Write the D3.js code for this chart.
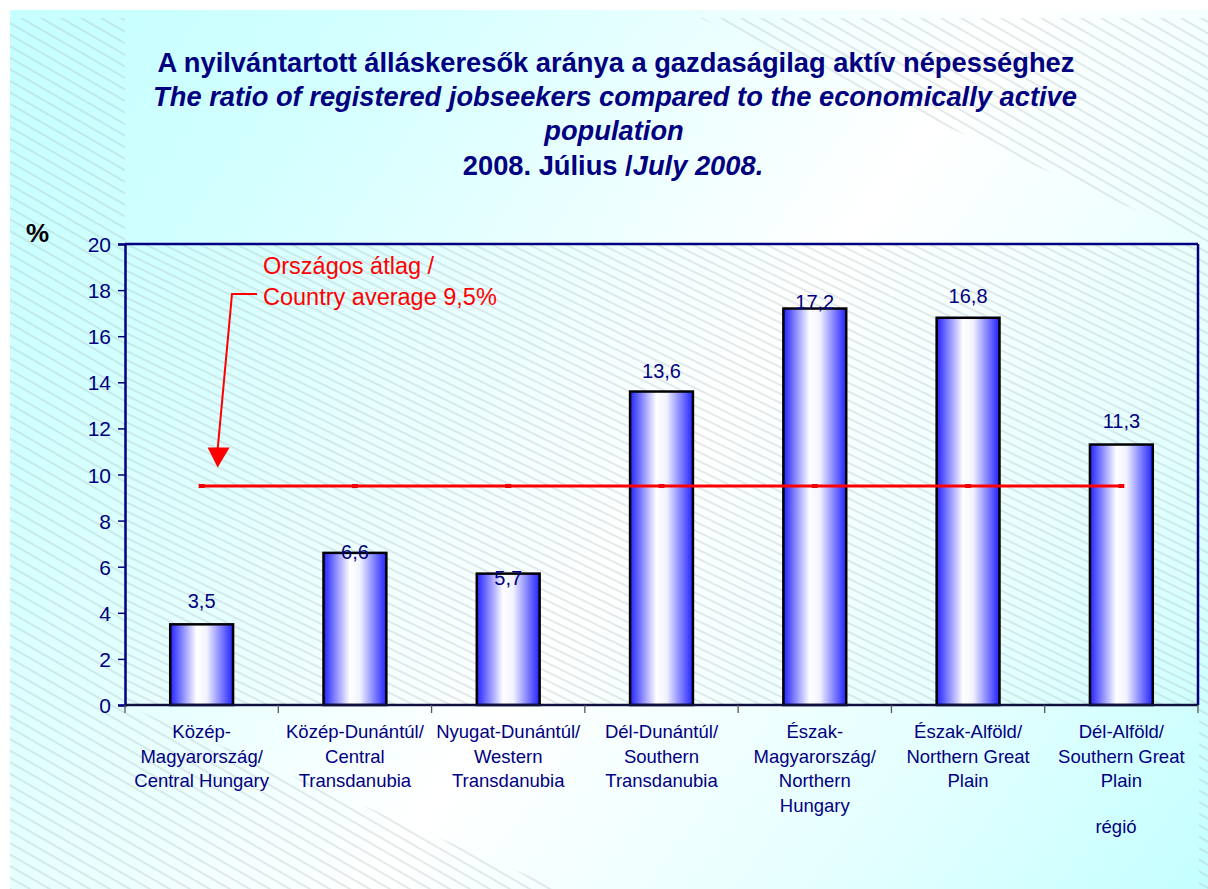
<!DOCTYPE html>
<html>
<head>
<meta charset="utf-8">
<script src="https://cdn.jsdelivr.net/npm/d3@7"></script>
<style>
  html, body { margin: 0; padding: 0; background: #ffffff; }
  svg { display: block; font-family: "Liberation Sans", Arial, sans-serif; }
</style>
</head>
<body>
<svg id="chart" width="1208" height="889"></svg>
<script>
// ---------- data ----------
const categories = [
  ["Közép-", "Magyarország/", "Central Hungary"],
  ["Közép-Dunántúl/", "Central", "Transdanubia"],
  ["Nyugat-Dunántúl/", "Western", "Transdanubia"],
  ["Dél-Dunántúl/", "Southern", "Transdanubia"],
  ["Észak-", "Magyarország/", "Northern", "Hungary"],
  ["Észak-Alföld/", "Northern Great", "Plain"],
  ["Dél-Alföld/", "Southern Great", "Plain"]
];
const values = [3.5, 6.6, 5.7, 13.6, 17.2, 16.8, 11.3];
const countryAverage = 9.5;
const yTicks = [0, 2, 4, 6, 8, 10, 12, 14, 16, 18, 20];
const titleLines = [
  "A nyilvántartott álláskeresők aránya a gazdaságilag aktív népességhez",
  "The ratio of registered jobseekers compared to the economically active",
  "population"
];
const titleDateParts = ["2008. Július /", "July 2008."];
const avgLabel = ["Országos átlag /", "Country average 9,5%"];
const yUnit = "%";
const xUnit = "régió";

// ---------- layout ----------
const W = 1208, H = 889;
const plot = { left: 125, top: 244, right: 1198, bottom: 705 };
// vertical nudges of value labels (px above bar top), as in the original
const labelRise = [16, -6, -11, 14, 0, 15, 17];
const navy = "#000080";
const font = '"Liberation Sans", Arial, sans-serif';

const svg = d3.select("#chart");
const defs = svg.append("defs");

// background gradient
const bg = defs.append("linearGradient").attr("id", "bgGrad")
  .attr("gradientUnits", "userSpaceOnUse")
  .attr("x1", 0).attr("y1", 0).attr("x2", W).attr("y2", H);
bg.append("stop").attr("offset", 0).attr("stop-color", "#c4ffff");
bg.append("stop").attr("offset", 0.2).attr("stop-color", "#d2ffff");
bg.append("stop").attr("offset", 0.55).attr("stop-color", "#ffffff");
bg.append("stop").attr("offset", 0.8).attr("stop-color", "#e4ffff");
bg.append("stop").attr("offset", 1).attr("stop-color", "#c4ffff");

// hatch patterns
const hatch = defs.append("pattern").attr("id", "hatch")
  .attr("patternUnits", "userSpaceOnUse")
  .attr("width", 10).attr("height", 10)
  .attr("patternTransform", "rotate(30)");
hatch.append("line").attr("x1", 0).attr("x2", 10).attr("y1", 5).attr("y2", 5)
  .attr("stroke", "#a8b4b4").attr("stroke-width", 0.6);

const hatchPlot = defs.append("pattern").attr("id", "hatchPlot")
  .attr("patternUnits", "userSpaceOnUse")
  .attr("width", 8).attr("height", 8)
  .attr("patternTransform", "rotate(26)");
hatchPlot.append("line").attr("x1", 0).attr("x2", 8).attr("y1", 4).attr("y2", 4)
  .attr("stroke", "#a8b4b4").attr("stroke-width", 0.6);

// bar gradient
const barGrad = defs.append("linearGradient").attr("id", "barGrad")
  .attr("x1", 0).attr("y1", 0).attr("x2", 1).attr("y2", 0);
barGrad.append("stop").attr("offset", 0).attr("stop-color", "#2222ff");
barGrad.append("stop").attr("offset", 0.42).attr("stop-color", "#ffffff");
barGrad.append("stop").attr("offset", 0.58).attr("stop-color", "#f2f2ff");
barGrad.append("stop").attr("offset", 1).attr("stop-color", "#2222ff");

// background
svg.append("rect").attr("x", 10).attr("y", 10).attr("width", W - 10).attr("height", H - 10)
  .attr("fill", "url(#bgGrad)");
svg.append("polygon").attr("points", "700,18 1208,18 1208,242").attr("fill", "url(#hatch)");
svg.append("polygon").attr("points", "10,18 125,18 125,705 560,889 10,889").attr("fill", "url(#hatch)");
svg.append("rect").attr("x", 1199).attr("y", 242).attr("width", 9).attr("height", H - 242).attr("fill", "url(#hatch)");

// ---------- scales ----------
const x = d3.scaleBand().domain(d3.range(values.length))
  .range([plot.left, plot.right]).paddingInner(0.59).paddingOuter(0.295);
const y = d3.scaleLinear().domain([0, 20]).range([plot.bottom, plot.top]);
const cx = i => x(i) + x.bandwidth() / 2;

// plot area hatch
svg.append("rect").attr("x", plot.left).attr("y", plot.top)
  .attr("width", plot.right - plot.left).attr("height", plot.bottom - plot.top)
  .attr("fill", "url(#hatchPlot)");

// title
const title = svg.append("g").attr("fill", navy).attr("font-weight", "bold")
  .attr("font-size", 27.3).attr("text-anchor", "middle");
title.append("text").attr("x", 616).attr("y", 72).text(titleLines[0]);
title.append("text").attr("x", 615).attr("y", 106).attr("font-style", "italic").text(titleLines[1]);
title.append("text").attr("x", 614).attr("y", 140).attr("font-style", "italic").text(titleLines[2]);
const t4 = title.append("text").attr("x", 613).attr("y", 175);
t4.append("tspan").text(titleDateParts[0]);
t4.append("tspan").attr("font-style", "italic").text(titleDateParts[1]);

// y unit
svg.append("text").attr("x", 26).attr("y", 242).attr("font-size", 26).attr("font-weight", "bold")
  .attr("fill", "#000").text(yUnit);

// bars
svg.append("g").selectAll("rect").data(values).join("rect")
  .attr("x", (d, i) => x(i)).attr("width", x.bandwidth())
  .attr("y", d => y(d)).attr("height", d => y(0) - y(d))
  .attr("fill", "url(#barGrad)").attr("stroke", "#000").attr("stroke-width", 2.5);

// value labels
svg.append("g").attr("fill", navy).attr("font-size", 20).attr("text-anchor", "middle")
  .selectAll("text").data(values).join("text")
  .attr("x", (d, i) => cx(i)).attr("y", (d, i) => y(d) - labelRise[i])
  .text(d => d3.format(".1f")(d).replace(".", ","));

// average line
const avgG = svg.append("g");
avgG.append("path")
  .attr("d", d3.line()([[cx(0), y(countryAverage)], [cx(values.length - 1), y(countryAverage)]]))
  .attr("stroke", "#ff0000").attr("stroke-width", 3).attr("fill", "none");
avgG.selectAll("rect").data(values).join("rect")
  .attr("x", (d, i) => cx(i) - 3).attr("y", y(countryAverage) - 2)
  .attr("width", 6).attr("height", 4).attr("fill", "#f00000");

// axes frame
svg.append("line").attr("x1", plot.left).attr("x2", plot.right).attr("y1", plot.top).attr("y2", plot.top)
  .attr("stroke", navy).attr("stroke-width", 2.5);
svg.append("line").attr("x1", plot.right).attr("x2", plot.right).attr("y1", plot.top).attr("y2", plot.bottom)
  .attr("stroke", navy).attr("stroke-width", 2.5);

const yAxis = svg.append("g").attr("transform", `translate(${plot.left},0)`)
  .call(d3.axisLeft(y).tickValues(yTicks).tickSize(7).tickPadding(7).tickFormat(d3.format("d")));
yAxis.select(".domain").attr("stroke", navy).attr("stroke-width", 2.5);
yAxis.selectAll(".tick line").attr("stroke", navy).attr("stroke-width", 1.5);
yAxis.selectAll(".tick text").attr("fill", navy).attr("font-size", 21).attr("font-family", font)
  .attr("dy", "0.36em");

// x axis: ticks at band boundaries
const bounds = d3.range(values.length + 1).map(i => i === values.length ? plot.right : x(i) - x.step() * x.paddingInner() / 2);
const xAxisG = svg.append("g");
xAxisG.append("line").attr("x1", plot.left).attr("x2", plot.right).attr("y1", plot.bottom).attr("y2", plot.bottom)
  .attr("stroke", "#101040").attr("stroke-width", 2.5);
xAxisG.selectAll("line.t").data(bounds).join("line").attr("class", "t")
  .attr("x1", d => d).attr("x2", d => d).attr("y1", plot.bottom).attr("y2", plot.bottom + 8)
  .attr("stroke", "#555").attr("stroke-width", 1.3);

// category labels
const catG = svg.append("g").attr("fill", navy).attr("font-size", 18.5).attr("text-anchor", "middle");
categories.forEach((lines, i) => {
  const t = catG.append("text").attr("x", cx(i)).attr("y", 738);
  lines.forEach((ln, k) => t.append("tspan").attr("x", cx(i)).attr("dy", k === 0 ? 0 : 24.5).text(ln));
});
svg.append("text").attr("x", 1116).attr("y", 833).attr("font-size", 18.5).attr("text-anchor", "middle")
  .attr("fill", navy).text(xUnit);

// annotation
const ann = svg.append("g").attr("fill", "#ff0000");
ann.append("text").attr("x", 263).attr("y", 274).attr("font-size", 23.5).text(avgLabel[0]);
ann.append("text").attr("x", 263).attr("y", 305).attr("font-size", 23.5).text(avgLabel[1]);
const tipX = cx(0) + 16, tipY = y(countryAverage + 0.8);
ann.append("path")
  .attr("d", d3.line()([[257, 294], [232, 294], [tipX, tipY - 18]]))
  .attr("stroke", "#ff0000").attr("stroke-width", 2).attr("fill", "none");
ann.append("path")
  .attr("d", d3.line()([[tipX - 10, tipY - 20], [tipX + 12, tipY - 20], [tipX, tipY]]) + "Z")
  .attr("fill", "#ff0000");
</script>
</body>
</html>
